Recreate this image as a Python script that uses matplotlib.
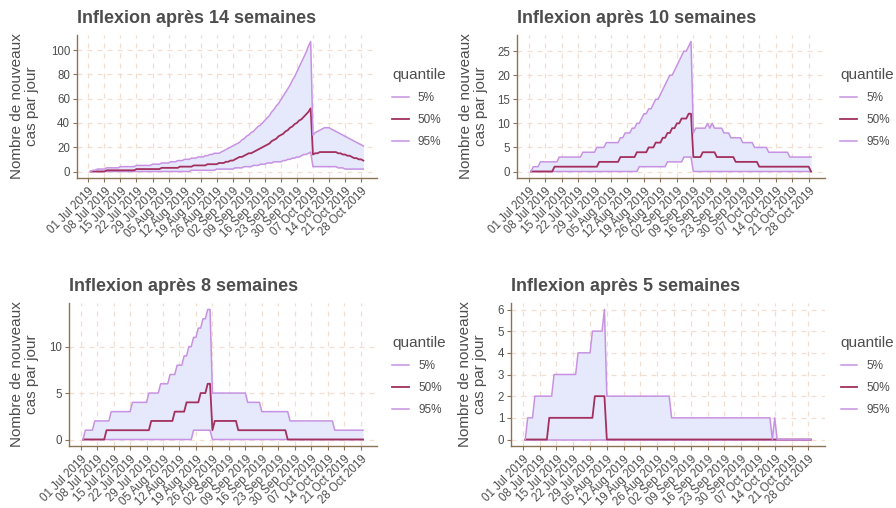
import matplotlib
matplotlib.use("Agg")
import matplotlib.pyplot as plt
import matplotlib.dates as mdates
import numpy as np
import pandas as pd

plt.rcParams['font.family'] = ['Liberation Sans', 'DejaVu Sans']

# daily dates, 02 Jul 2019 -> 29 Oct 2019
dates = pd.date_range('2019-07-02', periods=120, freq='D')
week_ticks = pd.date_range('2019-07-01', '2019-10-28', freq='7D')
quantiles = ['5%', '50%', '95%']

# --- Inflexion apres 14 semaines (daily values) ---
w14_q05 = [0] * 44 + [1, 1, 1, 1, 1, 1,
                      1, 1, 1, 1, 1, 2, 2, 2, 2, 2,
                      2, 2, 2, 3, 3, 3, 3, 4, 4, 4,
                      4, 5, 5, 5, 6, 6, 6, 7, 7, 7,
                      8, 8, 8, 8, 9, 9, 10, 10, 11, 11,
                      12, 12, 13, 14, 14, 15, 16,
                      4, 4, 4,
                      4, 4, 4, 4, 4, 4, 4, 4, 3, 3,
                      3, 2, 2, 2, 2, 2, 2, 2, 2, 2]
w14_q50 = [0, 0, 0, 0, 0, 0, 0, 1, 1, 1,
           1, 1, 1, 1, 1, 1, 1, 1, 1, 1,
           2, 2, 2, 2, 2, 2, 2, 2, 2, 2,
           2, 3, 3, 3, 3, 3, 3, 3, 3, 4,
           4, 4, 4, 4, 4, 5, 5, 5, 5, 5,
           5, 6, 6, 6, 6, 6, 7, 7, 7, 8,
           8, 9, 9, 10, 11, 12, 12, 13, 14, 15,
           15, 16, 17, 18, 19, 20, 21, 22, 23, 25,
           26, 27, 29, 30, 31, 33, 34, 36, 37, 39,
           40, 42, 43, 45, 47, 49, 52,
           14, 15, 15,
           16, 16, 16, 16, 16, 16, 16, 16, 15, 15,
           14, 14, 13, 13, 12, 11, 11, 10, 10, 9]
w14_q95 = [0, 1, 1, 2, 2, 2, 2, 3, 3, 3,
           3, 3, 3, 4, 4, 4, 4, 4, 4, 4,
           5, 5, 5, 5, 5, 5, 5, 6, 6, 6,
           6, 7, 7, 7, 7, 8, 8, 8, 9, 9,
           9, 10, 10, 10, 11, 11, 11, 12, 12, 12,
           13, 13, 14, 14, 15, 15, 15, 16, 17, 18,
           19, 20, 21, 22, 23, 24, 26, 27, 29, 30,
           32, 33, 35, 37, 38, 40, 42, 44, 46, 49,
           51, 54, 56, 59, 62, 65, 68, 71, 75, 78,
           82, 86, 90, 94, 98, 103, 107,
           30, 32, 33,
           34, 35, 36, 36, 36, 35, 34, 33, 32, 31,
           30, 29, 28, 27, 26, 25, 24, 23, 22, 21]

# --- step series given as [value, number of days] runs ---
w10_q05 = [[0, 46], [1, 12], [2, 7], [3, 4], [0, 51]]
w10_q50 = [[0, 10], [1, 19], [2, 9], [3, 7], [4, 5], [5, 3], [6, 3], [7, 2],
           [8, 2], [9, 2], [10, 2], [11, 3], [12, 2], [3, 4], [4, 6], [3, 8],
           [2, 10], [1, 22], [0, 1]]
w10_q95 = [[0, 1], [1, 3], [2, 8], [3, 10], [4, 6], [5, 4], [6, 6], [7, 2],
           [8, 3], [9, 2], [10, 2], [11, 1], [12, 2], [13, 2], [14, 1], [15, 2],
           [16, 1], [17, 1], [18, 1], [19, 1], [20, 2], [21, 1], [22, 1],
           [23, 1], [24, 1], [25, 2], [26, 1], [27, 1], [8, 1], [9, 5], [10, 1],
           [9, 1], [10, 1], [9, 4], [8, 3], [7, 5], [6, 5], [5, 6], [4, 9],
           [3, 10]]

w8_q05 = [[0, 47], [1, 8], [0, 65]]
w8_q50 = [[0, 10], [1, 19], [2, 10], [3, 5], [4, 6], [5, 3], [6, 2], [1, 1],
          [2, 10], [1, 21], [0, 33]]
w8_q95 = [[0, 1], [1, 4], [2, 7], [3, 9], [4, 7], [5, 5], [6, 4], [7, 3],
          [8, 3], [9, 2], [10, 2], [11, 2], [12, 2], [13, 2], [14, 2], [5, 15],
          [4, 6], [3, 12], [2, 19], [1, 13]]

w5_q05 = [[0, 120]]
w5_q50 = [[0, 10], [1, 19], [2, 5], [0, 86]]
w5_q95 = [[0, 1], [1, 3], [2, 8], [3, 10], [4, 6], [5, 5], [6, 1], [2, 27],
          [1, 42], [0, 1], [1, 1], [0, 15]]


def steps(runs):
    vals = [v for v, n in runs]
    counts = [n for v, n in runs]
    return np.repeat(vals, counts)


panels = [
    ("Inflexion après 14 semaines", w14_q05, w14_q50, w14_q95, [0, 20, 40, 60, 80, 100]),
    ("Inflexion après 10 semaines", steps(w10_q05), steps(w10_q50), steps(w10_q95), [0, 5, 10, 15, 20, 25]),
    ("Inflexion après 8 semaines", steps(w8_q05), steps(w8_q50), steps(w8_q95), [0, 5, 10]),
    ("Inflexion après 5 semaines", steps(w5_q05), steps(w5_q50), steps(w5_q95), [0, 1, 2, 3, 4, 5, 6]),
]

W, H = 896, 508
# axes boxes in pixels: left, top, right, bottom
boxes = [(77, 35, 377, 178), (517, 35, 825, 178),
         (69, 303, 377, 446), (511, 303, 825, 446)]
ylab_x = [39, 488, 39, 487]

text_col = '#4D4D4D'
axis_col = '#8B7355'
grid_col = '#F0DFD0'
light = '#C792E3'
dark = '#A3305E'
fill = '#E6E8FB'

fig = plt.figure(figsize=(W / 100, H / 100), dpi=100)

for (title, q05, q50, q95, yt), (l, t, r, b), lx in zip(panels, boxes, ylab_x):
    ax = fig.add_axes([l / W, 1 - b / H, (r - l) / W, (b - t) / H])
    ax.fill_between(dates, q05, q95, color=fill, lw=0, zorder=1)
    ax.plot(dates, q05, color=light, lw=1.1, label=quantiles[0], zorder=3)
    ax.plot(dates, q50, color=dark, lw=1.3, label=quantiles[1], zorder=3)
    ax.plot(dates, q95, color=light, lw=1.1, label=quantiles[2], zorder=3)
    ax.margins(x=0.05, y=0.05)

    ax.set_xticks(week_ticks)
    ax.xaxis.set_major_formatter(mdates.DateFormatter('%d %b %Y'))
    ax.set_yticks(yt)
    ax.grid(color=grid_col, linestyle=(0, (4, 4)), lw=0.9)
    ax.set_axisbelow(True)

    for s in ['top', 'right']:
        ax.spines[s].set_visible(False)
    for s in ['left', 'bottom']:
        ax.spines[s].set_color(axis_col)
        ax.spines[s].set_linewidth(1.0)
    ax.tick_params(colors=axis_col, labelcolor=text_col, labelsize=8.3,
                   length=3, width=0.8)
    ax.tick_params(axis='x', pad=2.5)
    ax.tick_params(axis='y', pad=2)
    for lbl in ax.get_xticklabels():
        lbl.set_rotation(45)
        lbl.set_ha('right')
        lbl.set_va('top')
        lbl.set_rotation_mode('anchor')

    ax.set_title(title, loc='left', fontsize=13, fontweight='bold',
                 color=text_col, pad=8.5)
    ax.set_ylabel('Nombre de nouveaux\ncas par jour', fontsize=11,
                  color=text_col, linespacing=1.05, multialignment='center')
    ax.yaxis.set_label_coords((lx - l) / (r - l), 0.5)

    leg = ax.legend(title='quantile', loc='upper left',
                    bbox_to_anchor=(1.05, 0.77), frameon=False, fontsize=8.5,
                    title_fontsize=11, handlelength=1.4, handletextpad=0.8,
                    labelspacing=0.85, borderpad=0, borderaxespad=0,
                    alignment='left')
    for txt in leg.get_texts():
        txt.set_color(text_col)
    leg.get_title().set_color(text_col)

fig.savefig('out.png', dpi=100)
